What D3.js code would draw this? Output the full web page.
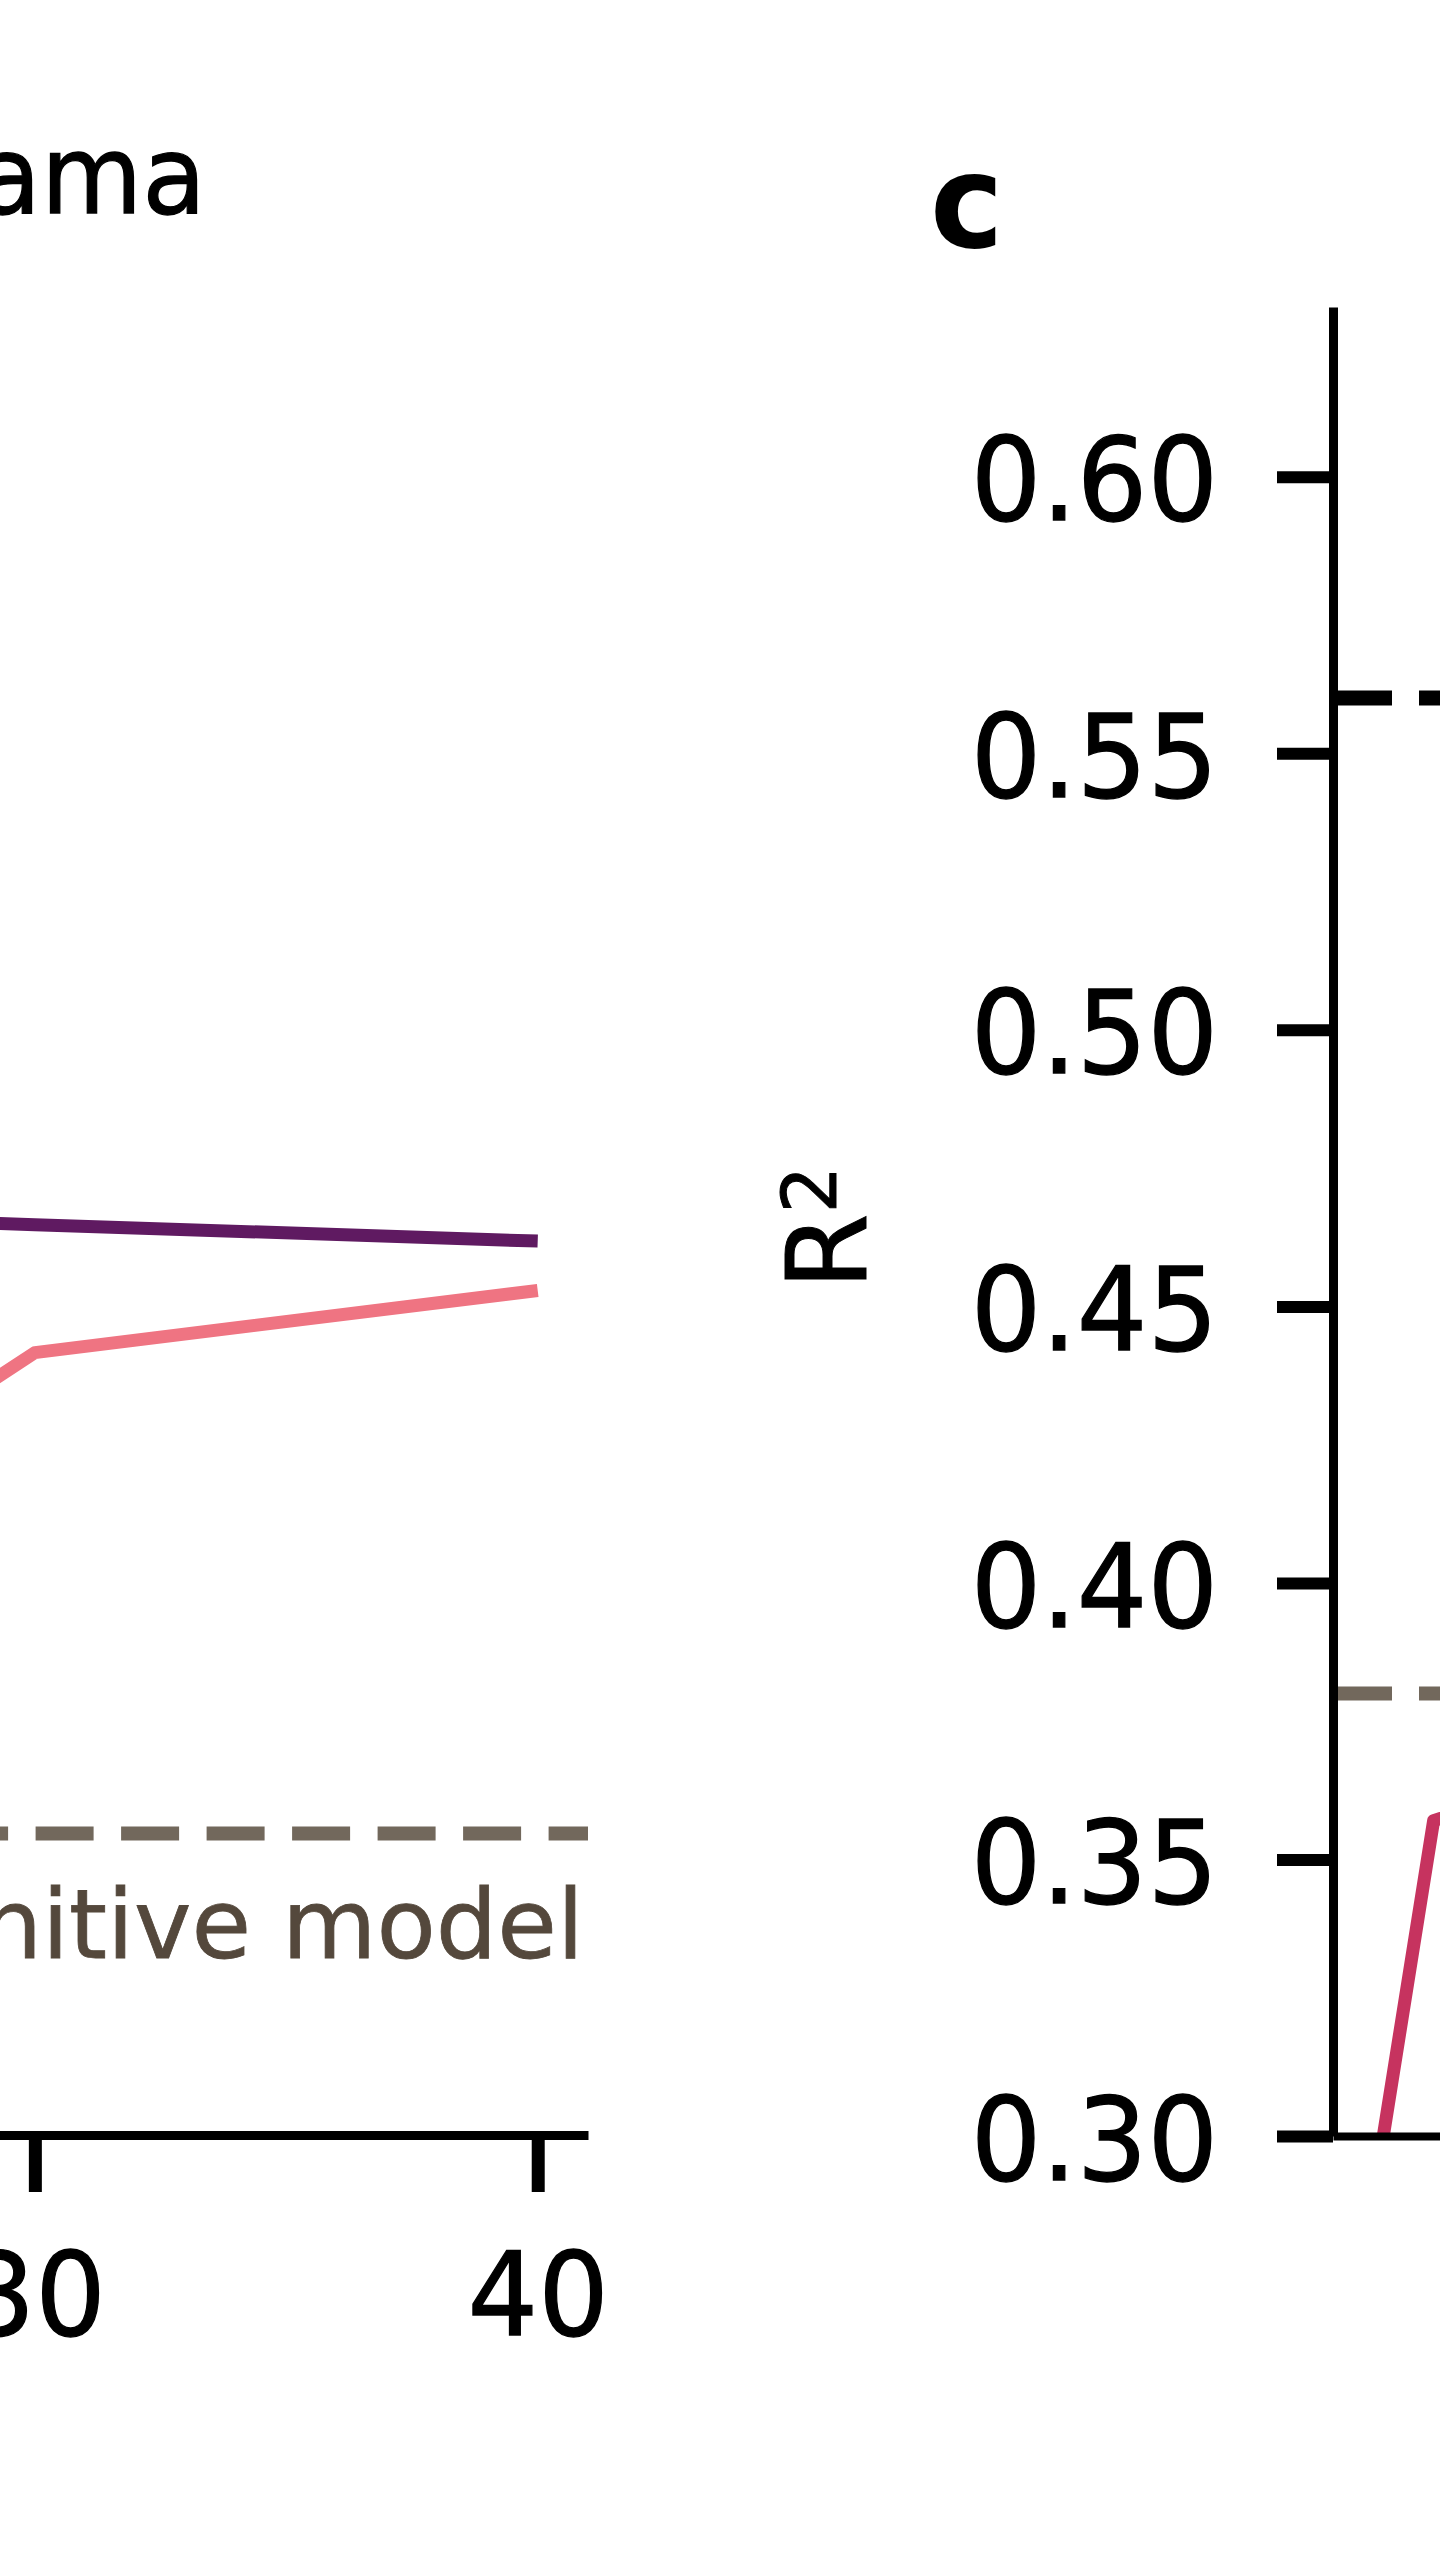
<!DOCTYPE html>
<html><head><meta charset="utf-8">
<script src="https://cdn.jsdelivr.net/npm/d3@7"></script>
<style>html,body{margin:0;padding:0;background:#fff;} svg{display:block;}</style>
</head><body>
<svg id="chart" width="1440" height="2560"></svg>
<script>
// ---------- Panel b (only its right part is visible) ----------
const layersB = [20, 30, 40];
const centaurB = [0.0508, 0.0498, 0.0489];
const llamaB = [0.0248, 0.0428, 0.0462];
const cognitiveB = 0.0165;
const xTicksB = [30, 40];
const legendLabel = "Llama";
const cognitiveLabel = "Cognitive model";

// ---------- Panel c (only its left part is visible) ----------
const layersC = [0, 1, 2];
const modelC = [0.300, 0.357, 0.360];
const ceilingC = 0.56;
const cognitiveC = 0.38;
const yTicksC = [0.30, 0.35, 0.40, 0.45, 0.50, 0.55, 0.60];
const yLabelC = "R";
const panelLabelC = "c";

const FONT = "DejaVu Sans, Verdana, sans-serif";
const STRETCH = 1.05;
const colPurple = "#5f1a61", colPink = "#ef7482", colCrimson = "#c6335f";
const colRef = "#72685c", colRefText = "#54483c";

const svg = d3.select("#chart");

// scales
const xB = d3.scaleLinear().domain([-1, 41]).range([-1524, 588]);
const yB = d3.scaleLinear().domain([0, 0.1]).range([2135, 307]);
const xC = d3.scaleLinear().domain([-1, 41]).range([1333, 1333 + 42 * 50.3]);
const yC = d3.scaleLinear().domain([0.30, 0.6307]).range([2136, 307]);

// ---------- panel b ----------
const gB = svg.append("g");
gB.append("line")
  .attr("x1", xB(-1)).attr("x2", xB(41))
  .attr("y1", yB(cognitiveB)).attr("y2", yB(cognitiveB))
  .attr("stroke", colRef).attr("stroke-width", 14)
  .attr("stroke-dasharray", "58,27.5")
  .attr("stroke-dashoffset", (() => { const p = 85.5; const d = (35.6 - xB(-1)) % p; return p - d; })());

gB.append("text")
  .attr("x", 584).attr("y", 1958)
  .attr("text-anchor", "end")
  .attr("font-family", FONT).attr("font-size", 97)
  .attr("fill", colRefText).attr("stroke", colRefText).attr("stroke-width", 0.8)
  .text(cognitiveLabel);

const lineB = (vals) => d3.line().x((d, i) => xB(layersB[i])).y(d => yB(d))(vals);
gB.append("path").attr("d", lineB(llamaB)).attr("fill", "none")
  .attr("stroke", colPink).attr("stroke-width", 13).attr("stroke-linejoin", "round");
gB.append("path").attr("d", lineB(centaurB)).attr("fill", "none")
  .attr("stroke", colPurple).attr("stroke-width", 13).attr("stroke-linejoin", "round");

const axB = gB.append("g").attr("transform", `translate(0,${yB(0)})`)
  .call(d3.axisBottom(xB).tickValues(xTicksB).tickSize(57).tickSizeOuter(0).tickFormat(d3.format("d")));
axB.select(".domain").attr("stroke", "#000").attr("stroke-width", 9);
axB.selectAll(".tick line").attr("stroke", "#000").attr("stroke-width", 13);
axB.selectAll(".tick text")
  .attr("y", null).attr("dy", null)
  .attr("transform", `translate(0,200) scale(1,${STRETCH})`)
  .attr("font-family", FONT).attr("font-size", 111).attr("fill", "#000")
  .attr("stroke", "#000").attr("stroke-width", 1.2);

// legend entry (partially visible)
svg.append("text")
  .attr("transform", `translate(206,213) scale(1,${STRETCH})`)
  .attr("text-anchor", "end")
  .attr("font-family", FONT).attr("font-size", 104).attr("fill", "#000")
  .attr("stroke", "#000").attr("stroke-width", 1.2)
  .text(legendLabel);

// ---------- panel c ----------
const gC = svg.append("g");
svg.append("defs").append("clipPath").attr("id", "clipC")
  .append("rect").attr("x", xC(-1)).attr("y", yC.range()[1])
  .attr("width", 3000).attr("height", yC.range()[0] - yC.range()[1]);

const plotC = gC.append("g").attr("clip-path", "url(#clipC)");
plotC.append("line")
  .attr("x1", xC(-1) + 5).attr("x2", xC(41))
  .attr("y1", yC(cognitiveC)).attr("y2", yC(cognitiveC))
  .attr("stroke", colRef).attr("stroke-width", 14).attr("stroke-dasharray", "54,27");
plotC.append("line")
  .attr("x1", xC(-1) + 5).attr("x2", xC(41))
  .attr("y1", yC(ceilingC)).attr("y2", yC(ceilingC))
  .attr("stroke", "#000").attr("stroke-width", 15).attr("stroke-dasharray", "54,27");
plotC.append("path")
  .attr("d", d3.line().x((d, i) => xC(layersC[i])).y(d => yC(d))(modelC))
  .attr("fill", "none").attr("stroke", colCrimson).attr("stroke-width", 13)
  .attr("stroke-linejoin", "round");

const axCx = gC.append("g").attr("transform", `translate(0,${yC(0.30)})`)
  .call(d3.axisBottom(xC).tickValues([]).tickSizeOuter(0));
axCx.select(".domain").attr("stroke", "#000").attr("stroke-width", 8);

const axCy = gC.append("g").attr("transform", `translate(${xC(-1)},0)`)
  .call(d3.axisLeft(yC).tickValues(yTicksC).tickSize(56).tickPadding(59).tickSizeOuter(0)
    .tickFormat(d3.format(".2f")));
axCy.select(".domain").attr("stroke", "#000").attr("stroke-width", 9);
axCy.selectAll(".tick line").attr("stroke", "#000").attr("stroke-width", 12);
axCy.selectAll(".tick text")
  .attr("dy", "0.37em")
  .attr("transform", `scale(1,${STRETCH})`)
  .attr("font-family", FONT).attr("font-size", 111).attr("fill", "#000")
  .attr("stroke", "#000").attr("stroke-width", 1.2);

// y label R²
const yl = svg.append("text")
  .attr("transform", `translate(866,1228) rotate(-90)`)
  .attr("text-anchor", "middle")
  .attr("font-family", FONT).attr("font-size", 110).attr("fill", "#000")
  .attr("stroke", "#000").attr("stroke-width", 1);
yl.append("tspan").text(yLabelC);
yl.append("tspan").attr("dy", -30).attr("font-size", 74).text("2");

// panel label
svg.append("text")
  .attr("transform", `translate(930,247) scale(1,${STRETCH})`)
  .attr("font-family", FONT).attr("font-weight", "bold").attr("font-size", 124).attr("fill", "#000")
  .text(panelLabelC);
</script>
</body></html>
